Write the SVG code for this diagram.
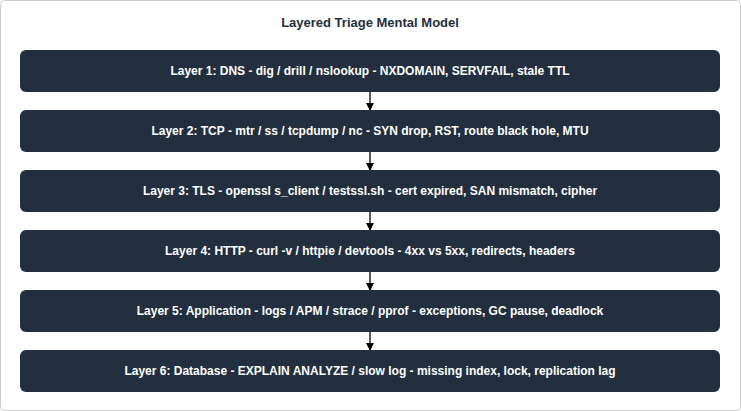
<svg xmlns="http://www.w3.org/2000/svg" width="741" height="411" viewBox="0 0 741 411">
<style>
.n{fill:#232f3e;}
.t{fill:#fff;font-family:"Liberation Sans",Arial,sans-serif;font-size:12px;font-weight:bold;text-anchor:middle;}
.c{stroke:#000;stroke-width:1.3;fill:none;marker-end:url(#a);}
</style>
<defs><marker id="a" markerWidth="8" markerHeight="8" refX="7" refY="4" orient="auto" markerUnits="userSpaceOnUse"><path d="M0,0 L8,4 L0,8 Z" fill="#000"/></marker></defs>
<rect x="0.5" y="0.5" width="740" height="410" rx="4" fill="#fff" stroke="#ccc"/>
<text x="370" y="27" style="font-family:'Liberation Sans',Arial,sans-serif;font-size:13px;font-weight:bold;fill:#232f3e" text-anchor="middle">Layered Triage Mental Model</text>
<g id="connectors">
<path class="c" d="M370,92 V110"/><path class="c" d="M370,152 V170"/><path class="c" d="M370,212 V230"/><path class="c" d="M370,272 V290"/><path class="c" d="M370,332 V350"/>
</g>
<g id="n1"><rect class="n" x="20" y="50" width="700" height="42" rx="6"/><text class="t" x="370" y="75">Layer 1: DNS - dig / drill / nslookup - NXDOMAIN, SERVFAIL, stale TTL</text></g>
<g id="n2"><rect class="n" x="20" y="110" width="700" height="42" rx="6"/><text class="t" x="370" y="135">Layer 2: TCP - mtr / ss / tcpdump / nc - SYN drop, RST, route black hole, MTU</text></g>
<g id="n3"><rect class="n" x="20" y="170" width="700" height="42" rx="6"/><text class="t" x="370" y="195">Layer 3: TLS - openssl s_client / testssl.sh - cert expired, SAN mismatch, cipher</text></g>
<g id="n4"><rect class="n" x="20" y="230" width="700" height="42" rx="6"/><text class="t" x="370" y="255">Layer 4: HTTP - curl -v / httpie / devtools - 4xx vs 5xx, redirects, headers</text></g>
<g id="n5"><rect class="n" x="20" y="290" width="700" height="42" rx="6"/><text class="t" x="370" y="315">Layer 5: Application - logs / APM / strace / pprof - exceptions, GC pause, deadlock</text></g>
<g id="n6"><rect class="n" x="20" y="350" width="700" height="42" rx="6"/><text class="t" x="370" y="375">Layer 6: Database - EXPLAIN ANALYZE / slow log - missing index, lock, replication lag</text></g>
</svg>
